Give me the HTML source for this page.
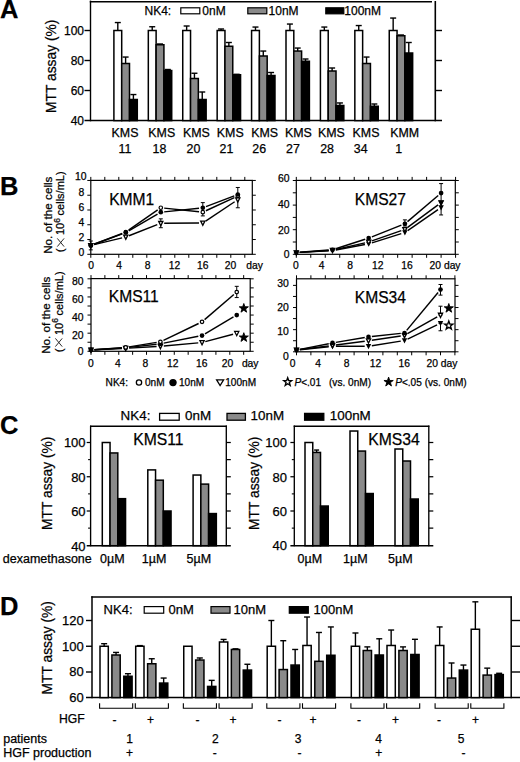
<!DOCTYPE html>
<html><head><meta charset="utf-8"><title>Figure</title>
<style>
html,body{margin:0;padding:0;background:#fff;}
body{width:520px;height:762px;overflow:hidden;}
svg{display:block;font-family:"Liberation Sans",sans-serif;fill:#000;}
text{stroke:#000;stroke-width:0.25px;}
</style></head>
<body>
<svg width="520" height="762" viewBox="0 0 520 762">
<rect x="0" y="0" width="520" height="762" fill="#fff" stroke="none"/>
<text x="0.00" y="18.20" font-size="25.5" text-anchor="start" font-weight="bold" >A</text>
<line x1="90.50" y1="0.60" x2="90.50" y2="121.30" stroke="#000" stroke-width="1.4"/>
<line x1="89.80" y1="1.70" x2="432.00" y2="1.70" stroke="#000" stroke-width="1.6"/>
<line x1="435.30" y1="1.00" x2="435.30" y2="121.30" stroke="#000" stroke-width="1.6"/>
<line x1="84.50" y1="120.60" x2="442.00" y2="120.60" stroke="#000" stroke-width="1.5"/>
<line x1="84.50" y1="30.50" x2="90.50" y2="30.50" stroke="#000" stroke-width="1.4"/>
<line x1="435.30" y1="30.50" x2="442.00" y2="30.50" stroke="#000" stroke-width="1.4"/>
<line x1="84.50" y1="60.50" x2="90.50" y2="60.50" stroke="#000" stroke-width="1.4"/>
<line x1="435.30" y1="60.50" x2="442.00" y2="60.50" stroke="#000" stroke-width="1.4"/>
<line x1="84.50" y1="90.50" x2="90.50" y2="90.50" stroke="#000" stroke-width="1.4"/>
<line x1="435.30" y1="90.50" x2="442.00" y2="90.50" stroke="#000" stroke-width="1.4"/>
<text x="84.00" y="34.80" font-size="12" text-anchor="end" font-weight="normal" >100</text>
<text x="84.00" y="64.80" font-size="12" text-anchor="end" font-weight="normal" >80</text>
<text x="84.00" y="94.80" font-size="12" text-anchor="end" font-weight="normal" >60</text>
<text x="84.00" y="124.80" font-size="12" text-anchor="end" font-weight="normal" >40</text>
<text transform="translate(56.00,66.30) rotate(-90)" font-size="13.8" text-anchor="middle">MTT assay (%)</text>
<text x="144.50" y="14.60" font-size="12" text-anchor="start" font-weight="normal" >NK4:</text>
<rect x="180.80" y="7.80" width="19.00" height="6.00" fill="#fff" stroke="#000" stroke-width="1.2"/>
<text x="202.30" y="14.60" font-size="12" text-anchor="start" font-weight="normal" >0nM</text>
<rect x="247.80" y="7.80" width="19.00" height="6.00" fill="#8a8a8a" stroke="#000" stroke-width="1.2"/>
<text x="268.60" y="14.60" font-size="12" text-anchor="start" font-weight="normal" >10nM</text>
<rect x="325.80" y="7.80" width="18.00" height="6.00" fill="#000" stroke="#000" stroke-width="1.2"/>
<text x="344.30" y="14.60" font-size="12" text-anchor="start" font-weight="normal" >100nM</text>
<rect x="113.90" y="30.50" width="7.80" height="90.10" fill="#fff" stroke="#000" stroke-width="1.5"/>
<line x1="117.80" y1="30.50" x2="117.80" y2="22.55" stroke="#000" stroke-width="1.4"/>
<line x1="114.80" y1="22.55" x2="120.80" y2="22.55" stroke="#000" stroke-width="1.4"/>
<rect x="121.70" y="63.50" width="7.80" height="57.10" fill="#8a8a8a" stroke="#000" stroke-width="1.5"/>
<line x1="125.60" y1="63.50" x2="125.60" y2="57.05" stroke="#000" stroke-width="1.4"/>
<line x1="122.60" y1="57.05" x2="128.60" y2="57.05" stroke="#000" stroke-width="1.4"/>
<rect x="129.50" y="99.50" width="7.80" height="21.10" fill="#000" stroke="#000" stroke-width="1.5"/>
<line x1="133.40" y1="99.50" x2="133.40" y2="94.55" stroke="#000" stroke-width="1.4"/>
<line x1="130.40" y1="94.55" x2="136.40" y2="94.55" stroke="#000" stroke-width="1.4"/>
<text x="125.00" y="136.90" font-size="12.4" text-anchor="middle" font-weight="normal" >KMS</text>
<text x="124.90" y="152.60" font-size="12.4" text-anchor="middle" font-weight="normal" >11</text>
<rect x="148.32" y="30.50" width="7.80" height="90.10" fill="#fff" stroke="#000" stroke-width="1.5"/>
<line x1="152.22" y1="30.50" x2="152.22" y2="26.75" stroke="#000" stroke-width="1.4"/>
<line x1="149.22" y1="26.75" x2="155.22" y2="26.75" stroke="#000" stroke-width="1.4"/>
<rect x="156.12" y="44.75" width="7.80" height="75.85" fill="#8a8a8a" stroke="#000" stroke-width="1.5"/>
<line x1="160.02" y1="44.75" x2="160.02" y2="44.00" stroke="#000" stroke-width="1.4"/>
<line x1="157.02" y1="44.00" x2="163.02" y2="44.00" stroke="#000" stroke-width="1.4"/>
<rect x="163.92" y="70.55" width="7.80" height="50.05" fill="#000" stroke="#000" stroke-width="1.5"/>
<line x1="167.82" y1="70.55" x2="167.82" y2="69.50" stroke="#000" stroke-width="1.4"/>
<line x1="164.82" y1="69.50" x2="170.82" y2="69.50" stroke="#000" stroke-width="1.4"/>
<text x="161.80" y="136.90" font-size="12.4" text-anchor="middle" font-weight="normal" >KMS</text>
<text x="159.50" y="152.60" font-size="12.4" text-anchor="middle" font-weight="normal" >18</text>
<rect x="182.74" y="30.50" width="7.80" height="90.10" fill="#fff" stroke="#000" stroke-width="1.5"/>
<line x1="186.64" y1="30.50" x2="186.64" y2="26.00" stroke="#000" stroke-width="1.4"/>
<line x1="183.64" y1="26.00" x2="189.64" y2="26.00" stroke="#000" stroke-width="1.4"/>
<rect x="190.54" y="78.50" width="7.80" height="42.10" fill="#8a8a8a" stroke="#000" stroke-width="1.5"/>
<line x1="194.44" y1="78.50" x2="194.44" y2="73.25" stroke="#000" stroke-width="1.4"/>
<line x1="191.44" y1="73.25" x2="197.44" y2="73.25" stroke="#000" stroke-width="1.4"/>
<rect x="198.34" y="99.50" width="7.80" height="21.10" fill="#000" stroke="#000" stroke-width="1.5"/>
<line x1="202.24" y1="99.50" x2="202.24" y2="92.00" stroke="#000" stroke-width="1.4"/>
<line x1="199.24" y1="92.00" x2="205.24" y2="92.00" stroke="#000" stroke-width="1.4"/>
<text x="196.40" y="136.90" font-size="12.4" text-anchor="middle" font-weight="normal" >KMS</text>
<text x="193.50" y="152.60" font-size="12.4" text-anchor="middle" font-weight="normal" >20</text>
<rect x="217.16" y="30.50" width="7.80" height="90.10" fill="#fff" stroke="#000" stroke-width="1.5"/>
<line x1="221.06" y1="30.50" x2="221.06" y2="29.00" stroke="#000" stroke-width="1.4"/>
<line x1="218.06" y1="29.00" x2="224.06" y2="29.00" stroke="#000" stroke-width="1.4"/>
<rect x="224.96" y="46.25" width="7.80" height="74.35" fill="#8a8a8a" stroke="#000" stroke-width="1.5"/>
<line x1="228.86" y1="46.25" x2="228.86" y2="42.50" stroke="#000" stroke-width="1.4"/>
<line x1="225.86" y1="42.50" x2="231.86" y2="42.50" stroke="#000" stroke-width="1.4"/>
<rect x="232.76" y="74.75" width="7.80" height="45.85" fill="#000" stroke="#000" stroke-width="1.5"/>
<line x1="236.66" y1="74.75" x2="236.66" y2="74.30" stroke="#000" stroke-width="1.4"/>
<line x1="233.66" y1="74.30" x2="239.66" y2="74.30" stroke="#000" stroke-width="1.4"/>
<text x="230.30" y="136.90" font-size="12.4" text-anchor="middle" font-weight="normal" >KMS</text>
<text x="226.50" y="152.60" font-size="12.4" text-anchor="middle" font-weight="normal" >21</text>
<rect x="251.58" y="30.50" width="7.80" height="90.10" fill="#fff" stroke="#000" stroke-width="1.5"/>
<line x1="255.48" y1="30.50" x2="255.48" y2="27.05" stroke="#000" stroke-width="1.4"/>
<line x1="252.48" y1="27.05" x2="258.48" y2="27.05" stroke="#000" stroke-width="1.4"/>
<rect x="259.38" y="56.00" width="7.80" height="64.60" fill="#8a8a8a" stroke="#000" stroke-width="1.5"/>
<line x1="263.28" y1="56.00" x2="263.28" y2="51.05" stroke="#000" stroke-width="1.4"/>
<line x1="260.28" y1="51.05" x2="266.28" y2="51.05" stroke="#000" stroke-width="1.4"/>
<rect x="267.18" y="75.50" width="7.80" height="45.10" fill="#000" stroke="#000" stroke-width="1.5"/>
<line x1="271.08" y1="75.50" x2="271.08" y2="72.50" stroke="#000" stroke-width="1.4"/>
<line x1="268.08" y1="72.50" x2="274.08" y2="72.50" stroke="#000" stroke-width="1.4"/>
<text x="264.60" y="136.90" font-size="12.4" text-anchor="middle" font-weight="normal" >KMS</text>
<text x="259.20" y="152.60" font-size="12.4" text-anchor="middle" font-weight="normal" >26</text>
<rect x="286.00" y="30.50" width="7.80" height="90.10" fill="#fff" stroke="#000" stroke-width="1.5"/>
<line x1="289.90" y1="30.50" x2="289.90" y2="24.05" stroke="#000" stroke-width="1.4"/>
<line x1="286.90" y1="24.05" x2="292.90" y2="24.05" stroke="#000" stroke-width="1.4"/>
<rect x="293.80" y="51.05" width="7.80" height="69.55" fill="#8a8a8a" stroke="#000" stroke-width="1.5"/>
<line x1="297.70" y1="51.05" x2="297.70" y2="48.05" stroke="#000" stroke-width="1.4"/>
<line x1="294.70" y1="48.05" x2="300.70" y2="48.05" stroke="#000" stroke-width="1.4"/>
<rect x="301.60" y="61.25" width="7.80" height="59.35" fill="#000" stroke="#000" stroke-width="1.5"/>
<line x1="305.50" y1="61.25" x2="305.50" y2="59.00" stroke="#000" stroke-width="1.4"/>
<line x1="302.50" y1="59.00" x2="308.50" y2="59.00" stroke="#000" stroke-width="1.4"/>
<text x="298.40" y="136.90" font-size="12.4" text-anchor="middle" font-weight="normal" >KMS</text>
<text x="293.00" y="152.60" font-size="12.4" text-anchor="middle" font-weight="normal" >27</text>
<rect x="320.42" y="30.50" width="7.80" height="90.10" fill="#fff" stroke="#000" stroke-width="1.5"/>
<line x1="324.32" y1="30.50" x2="324.32" y2="27.05" stroke="#000" stroke-width="1.4"/>
<line x1="321.32" y1="27.05" x2="327.32" y2="27.05" stroke="#000" stroke-width="1.4"/>
<rect x="328.22" y="71.00" width="7.80" height="49.60" fill="#8a8a8a" stroke="#000" stroke-width="1.5"/>
<line x1="332.12" y1="71.00" x2="332.12" y2="68.00" stroke="#000" stroke-width="1.4"/>
<line x1="329.12" y1="68.00" x2="335.12" y2="68.00" stroke="#000" stroke-width="1.4"/>
<rect x="336.02" y="105.50" width="7.80" height="15.10" fill="#000" stroke="#000" stroke-width="1.5"/>
<line x1="339.92" y1="105.50" x2="339.92" y2="102.95" stroke="#000" stroke-width="1.4"/>
<line x1="336.92" y1="102.95" x2="342.92" y2="102.95" stroke="#000" stroke-width="1.4"/>
<text x="331.40" y="136.90" font-size="12.4" text-anchor="middle" font-weight="normal" >KMS</text>
<text x="327.10" y="152.60" font-size="12.4" text-anchor="middle" font-weight="normal" >28</text>
<rect x="354.84" y="30.50" width="7.80" height="90.10" fill="#fff" stroke="#000" stroke-width="1.5"/>
<line x1="358.74" y1="30.50" x2="358.74" y2="25.55" stroke="#000" stroke-width="1.4"/>
<line x1="355.74" y1="25.55" x2="361.74" y2="25.55" stroke="#000" stroke-width="1.4"/>
<rect x="362.64" y="63.50" width="7.80" height="57.10" fill="#8a8a8a" stroke="#000" stroke-width="1.5"/>
<line x1="366.54" y1="63.50" x2="366.54" y2="57.05" stroke="#000" stroke-width="1.4"/>
<line x1="363.54" y1="57.05" x2="369.54" y2="57.05" stroke="#000" stroke-width="1.4"/>
<rect x="370.44" y="106.25" width="7.80" height="14.35" fill="#000" stroke="#000" stroke-width="1.5"/>
<line x1="374.34" y1="106.25" x2="374.34" y2="104.00" stroke="#000" stroke-width="1.4"/>
<line x1="371.34" y1="104.00" x2="377.34" y2="104.00" stroke="#000" stroke-width="1.4"/>
<text x="366.00" y="136.90" font-size="12.4" text-anchor="middle" font-weight="normal" >KMS</text>
<text x="360.70" y="152.60" font-size="12.4" text-anchor="middle" font-weight="normal" >34</text>
<rect x="389.26" y="30.50" width="7.80" height="90.10" fill="#fff" stroke="#000" stroke-width="1.5"/>
<line x1="393.16" y1="30.50" x2="393.16" y2="18.05" stroke="#000" stroke-width="1.4"/>
<line x1="390.16" y1="18.05" x2="396.16" y2="18.05" stroke="#000" stroke-width="1.4"/>
<rect x="397.06" y="35.75" width="7.80" height="84.85" fill="#8a8a8a" stroke="#000" stroke-width="1.5"/>
<line x1="400.96" y1="35.75" x2="400.96" y2="35.00" stroke="#000" stroke-width="1.4"/>
<line x1="397.96" y1="35.00" x2="403.96" y2="35.00" stroke="#000" stroke-width="1.4"/>
<rect x="404.86" y="53.00" width="7.80" height="67.60" fill="#000" stroke="#000" stroke-width="1.5"/>
<line x1="408.76" y1="53.00" x2="408.76" y2="42.50" stroke="#000" stroke-width="1.4"/>
<line x1="405.76" y1="42.50" x2="411.76" y2="42.50" stroke="#000" stroke-width="1.4"/>
<text x="404.60" y="136.90" font-size="12.4" text-anchor="middle" font-weight="normal" >KMM</text>
<text x="398.80" y="152.60" font-size="12.4" text-anchor="middle" font-weight="normal" >1</text>
<text x="0.00" y="194.80" font-size="25.5" text-anchor="start" font-weight="bold" >B</text>
<text transform="translate(51.60,215.20) rotate(-90)" font-size="11.7" text-anchor="middle">No. of the cells</text>
<text transform="translate(64.40,252.20) rotate(-90)" font-size="11.3">(</text>
<path d="M57.30,238.40 L64.10,246.60 M64.10,238.40 L57.30,246.60" stroke="#222" stroke-width="0.95" fill="none"/>
<text transform="translate(64.40,235.00) rotate(-90)" font-size="11">10<tspan font-size="8.4" dy="-4.2">6</tspan><tspan dy="4.2" dx="-0.4"> cells/mL)</tspan></text>
<text transform="translate(49.70,315.20) rotate(-90)" font-size="11.7" text-anchor="middle">No. of the cells</text>
<text transform="translate(62.50,352.20) rotate(-90)" font-size="11.3">(</text>
<path d="M55.40,338.40 L62.20,346.60 M62.20,338.40 L55.40,346.60" stroke="#222" stroke-width="0.95" fill="none"/>
<text transform="translate(62.50,335.00) rotate(-90)" font-size="11">10<tspan font-size="8.4" dy="-4.2">6</tspan><tspan dy="4.2" dx="-0.4"> cells/mL)</tspan></text>
<rect x="90.80" y="180.40" width="161.50" height="73.90" fill="none" stroke="#000" stroke-width="1.2"/>
<line x1="90.80" y1="254.30" x2="90.80" y2="257.80" stroke="#000" stroke-width="1.0"/>
<line x1="90.80" y1="180.40" x2="90.80" y2="176.90" stroke="#000" stroke-width="1.0"/>
<line x1="104.80" y1="254.30" x2="104.80" y2="257.80" stroke="#000" stroke-width="1.0"/>
<line x1="104.80" y1="180.40" x2="104.80" y2="176.90" stroke="#000" stroke-width="1.0"/>
<line x1="118.80" y1="254.30" x2="118.80" y2="257.80" stroke="#000" stroke-width="1.0"/>
<line x1="118.80" y1="180.40" x2="118.80" y2="176.90" stroke="#000" stroke-width="1.0"/>
<line x1="132.80" y1="254.30" x2="132.80" y2="257.80" stroke="#000" stroke-width="1.0"/>
<line x1="132.80" y1="180.40" x2="132.80" y2="176.90" stroke="#000" stroke-width="1.0"/>
<line x1="146.80" y1="254.30" x2="146.80" y2="257.80" stroke="#000" stroke-width="1.0"/>
<line x1="146.80" y1="180.40" x2="146.80" y2="176.90" stroke="#000" stroke-width="1.0"/>
<line x1="160.80" y1="254.30" x2="160.80" y2="257.80" stroke="#000" stroke-width="1.0"/>
<line x1="160.80" y1="180.40" x2="160.80" y2="176.90" stroke="#000" stroke-width="1.0"/>
<line x1="174.80" y1="254.30" x2="174.80" y2="257.80" stroke="#000" stroke-width="1.0"/>
<line x1="174.80" y1="180.40" x2="174.80" y2="176.90" stroke="#000" stroke-width="1.0"/>
<line x1="188.80" y1="254.30" x2="188.80" y2="257.80" stroke="#000" stroke-width="1.0"/>
<line x1="188.80" y1="180.40" x2="188.80" y2="176.90" stroke="#000" stroke-width="1.0"/>
<line x1="202.80" y1="254.30" x2="202.80" y2="257.80" stroke="#000" stroke-width="1.0"/>
<line x1="202.80" y1="180.40" x2="202.80" y2="176.90" stroke="#000" stroke-width="1.0"/>
<line x1="216.80" y1="254.30" x2="216.80" y2="257.80" stroke="#000" stroke-width="1.0"/>
<line x1="216.80" y1="180.40" x2="216.80" y2="176.90" stroke="#000" stroke-width="1.0"/>
<line x1="230.80" y1="254.30" x2="230.80" y2="257.80" stroke="#000" stroke-width="1.0"/>
<line x1="230.80" y1="180.40" x2="230.80" y2="176.90" stroke="#000" stroke-width="1.0"/>
<line x1="244.80" y1="254.30" x2="244.80" y2="257.80" stroke="#000" stroke-width="1.0"/>
<line x1="244.80" y1="180.40" x2="244.80" y2="176.90" stroke="#000" stroke-width="1.0"/>
<line x1="87.30" y1="254.30" x2="90.80" y2="254.30" stroke="#000" stroke-width="1.0"/>
<line x1="252.30" y1="254.30" x2="255.80" y2="254.30" stroke="#000" stroke-width="1.0"/>
<line x1="87.30" y1="239.53" x2="90.80" y2="239.53" stroke="#000" stroke-width="1.0"/>
<line x1="252.30" y1="239.53" x2="255.80" y2="239.53" stroke="#000" stroke-width="1.0"/>
<line x1="87.30" y1="224.76" x2="90.80" y2="224.76" stroke="#000" stroke-width="1.0"/>
<line x1="252.30" y1="224.76" x2="255.80" y2="224.76" stroke="#000" stroke-width="1.0"/>
<line x1="87.30" y1="209.99" x2="90.80" y2="209.99" stroke="#000" stroke-width="1.0"/>
<line x1="252.30" y1="209.99" x2="255.80" y2="209.99" stroke="#000" stroke-width="1.0"/>
<line x1="87.30" y1="195.22" x2="90.80" y2="195.22" stroke="#000" stroke-width="1.0"/>
<line x1="252.30" y1="195.22" x2="255.80" y2="195.22" stroke="#000" stroke-width="1.0"/>
<line x1="87.30" y1="180.45" x2="90.80" y2="180.45" stroke="#000" stroke-width="1.0"/>
<line x1="252.30" y1="180.45" x2="255.80" y2="180.45" stroke="#000" stroke-width="1.0"/>
<text x="86.60" y="180.40" font-size="10.4" text-anchor="end" font-weight="normal" >10</text>
<text x="84.20" y="196.00" font-size="10.4" text-anchor="end" font-weight="normal" >8</text>
<text x="84.20" y="210.90" font-size="10.4" text-anchor="end" font-weight="normal" >6</text>
<text x="84.20" y="226.20" font-size="10.4" text-anchor="end" font-weight="normal" >4</text>
<text x="84.20" y="241.30" font-size="10.4" text-anchor="end" font-weight="normal" >2</text>
<text x="84.20" y="256.00" font-size="10.4" text-anchor="end" font-weight="normal" >0</text>
<text x="91.00" y="268.50" font-size="10.3" text-anchor="middle" font-weight="normal" >0</text>
<text x="119.00" y="268.50" font-size="10.3" text-anchor="middle" font-weight="normal" >4</text>
<text x="147.50" y="268.50" font-size="10.3" text-anchor="middle" font-weight="normal" >8</text>
<text x="174.50" y="268.50" font-size="10.3" text-anchor="middle" font-weight="normal" >12</text>
<text x="202.80" y="268.50" font-size="10.3" text-anchor="middle" font-weight="normal" >16</text>
<text x="230.50" y="268.50" font-size="10.3" text-anchor="middle" font-weight="normal" >20</text>
<text x="246.30" y="268.50" font-size="10.3" text-anchor="start" font-weight="normal" >day</text>
<text x="109.20" y="204.80" font-size="15.6" text-anchor="start" font-weight="normal" >KMM1</text>
<line x1="94.10" y1="244.64" x2="122.11" y2="237.84" stroke="#000" stroke-width="1.45"/>
<line x1="128.97" y1="235.71" x2="157.26" y2="224.66" stroke="#000" stroke-width="1.45"/>
<line x1="164.20" y1="223.25" x2="199.00" y2="222.95" stroke="#000" stroke-width="1.45"/>
<line x1="205.63" y1="221.03" x2="234.64" y2="201.75" stroke="#000" stroke-width="1.45"/>
<line x1="93.98" y1="244.23" x2="122.25" y2="233.49" stroke="#000" stroke-width="1.45"/>
<line x1="128.59" y1="230.20" x2="157.68" y2="209.95" stroke="#000" stroke-width="1.45"/>
<line x1="164.18" y1="208.13" x2="199.02" y2="211.81" stroke="#000" stroke-width="1.45"/>
<line x1="205.88" y1="210.77" x2="234.35" y2="197.56" stroke="#000" stroke-width="1.45"/>
<line x1="93.99" y1="244.26" x2="122.24" y2="233.83" stroke="#000" stroke-width="1.45"/>
<line x1="128.74" y1="230.81" x2="157.51" y2="214.11" stroke="#000" stroke-width="1.45"/>
<line x1="164.18" y1="211.85" x2="199.02" y2="208.17" stroke="#000" stroke-width="1.45"/>
<line x1="205.98" y1="206.57" x2="234.25" y2="195.83" stroke="#000" stroke-width="1.45"/>
<line x1="90.80" y1="249.87" x2="90.80" y2="241.01" stroke="#000" stroke-width="1.0"/>
<line x1="88.80" y1="249.87" x2="92.80" y2="249.87" stroke="#000" stroke-width="1.0"/>
<line x1="88.80" y1="241.01" x2="92.80" y2="241.01" stroke="#000" stroke-width="1.0"/>
<line x1="160.80" y1="227.71" x2="160.80" y2="218.85" stroke="#000" stroke-width="1.0"/>
<line x1="158.80" y1="227.71" x2="162.80" y2="227.71" stroke="#000" stroke-width="1.0"/>
<line x1="158.80" y1="218.85" x2="162.80" y2="218.85" stroke="#000" stroke-width="1.0"/>
<line x1="202.80" y1="215.90" x2="202.80" y2="202.61" stroke="#000" stroke-width="1.0"/>
<line x1="200.80" y1="215.90" x2="204.80" y2="215.90" stroke="#000" stroke-width="1.0"/>
<line x1="200.80" y1="202.61" x2="204.80" y2="202.61" stroke="#000" stroke-width="1.0"/>
<line x1="237.80" y1="207.77" x2="237.80" y2="187.47" stroke="#000" stroke-width="1.0"/>
<line x1="235.80" y1="207.77" x2="239.80" y2="207.77" stroke="#000" stroke-width="1.0"/>
<line x1="235.80" y1="187.47" x2="239.80" y2="187.47" stroke="#000" stroke-width="1.0"/>
<polygon points="88.70,243.64 92.90,243.64 90.80,247.84" fill="#fff" stroke="#000" stroke-width="1.3"/>
<polygon points="123.70,235.15 127.90,235.15 125.80,239.35" fill="#fff" stroke="#000" stroke-width="1.3"/>
<polygon points="158.70,221.48 162.90,221.48 160.80,225.68" fill="#fff" stroke="#000" stroke-width="1.3"/>
<polygon points="200.70,221.11 204.90,221.11 202.80,225.31" fill="#fff" stroke="#000" stroke-width="1.3"/>
<polygon points="235.70,197.85 239.90,197.85 237.80,202.05" fill="#fff" stroke="#000" stroke-width="1.3"/>
<circle cx="90.80" cy="245.44" r="1.75" fill="#fff" stroke="#000" stroke-width="1.2"/>
<circle cx="125.80" cy="232.15" r="1.75" fill="#fff" stroke="#000" stroke-width="1.2"/>
<circle cx="160.80" cy="207.77" r="1.75" fill="#fff" stroke="#000" stroke-width="1.2"/>
<circle cx="202.80" cy="212.21" r="1.75" fill="#fff" stroke="#000" stroke-width="1.2"/>
<circle cx="237.80" cy="195.96" r="1.75" fill="#fff" stroke="#000" stroke-width="1.2"/>
<circle cx="90.80" cy="245.44" r="2.35" fill="#000"/>
<circle cx="125.80" cy="232.51" r="2.35" fill="#000"/>
<circle cx="160.80" cy="212.21" r="2.35" fill="#000"/>
<circle cx="202.80" cy="207.77" r="2.35" fill="#000"/>
<circle cx="237.80" cy="194.48" r="2.35" fill="#000"/>
<polygon points="88.10,243.24 93.50,243.24 90.80,248.44" fill="#000"/>
<rect x="296.30" y="180.40" width="159.00" height="73.90" fill="none" stroke="#000" stroke-width="1.2"/>
<line x1="296.30" y1="254.30" x2="296.30" y2="257.80" stroke="#000" stroke-width="1.0"/>
<line x1="296.30" y1="180.40" x2="296.30" y2="176.90" stroke="#000" stroke-width="1.0"/>
<line x1="310.78" y1="254.30" x2="310.78" y2="257.80" stroke="#000" stroke-width="1.0"/>
<line x1="310.78" y1="180.40" x2="310.78" y2="176.90" stroke="#000" stroke-width="1.0"/>
<line x1="325.26" y1="254.30" x2="325.26" y2="257.80" stroke="#000" stroke-width="1.0"/>
<line x1="325.26" y1="180.40" x2="325.26" y2="176.90" stroke="#000" stroke-width="1.0"/>
<line x1="339.74" y1="254.30" x2="339.74" y2="257.80" stroke="#000" stroke-width="1.0"/>
<line x1="339.74" y1="180.40" x2="339.74" y2="176.90" stroke="#000" stroke-width="1.0"/>
<line x1="354.22" y1="254.30" x2="354.22" y2="257.80" stroke="#000" stroke-width="1.0"/>
<line x1="354.22" y1="180.40" x2="354.22" y2="176.90" stroke="#000" stroke-width="1.0"/>
<line x1="368.70" y1="254.30" x2="368.70" y2="257.80" stroke="#000" stroke-width="1.0"/>
<line x1="368.70" y1="180.40" x2="368.70" y2="176.90" stroke="#000" stroke-width="1.0"/>
<line x1="383.18" y1="254.30" x2="383.18" y2="257.80" stroke="#000" stroke-width="1.0"/>
<line x1="383.18" y1="180.40" x2="383.18" y2="176.90" stroke="#000" stroke-width="1.0"/>
<line x1="397.66" y1="254.30" x2="397.66" y2="257.80" stroke="#000" stroke-width="1.0"/>
<line x1="397.66" y1="180.40" x2="397.66" y2="176.90" stroke="#000" stroke-width="1.0"/>
<line x1="412.14" y1="254.30" x2="412.14" y2="257.80" stroke="#000" stroke-width="1.0"/>
<line x1="412.14" y1="180.40" x2="412.14" y2="176.90" stroke="#000" stroke-width="1.0"/>
<line x1="426.62" y1="254.30" x2="426.62" y2="257.80" stroke="#000" stroke-width="1.0"/>
<line x1="426.62" y1="180.40" x2="426.62" y2="176.90" stroke="#000" stroke-width="1.0"/>
<line x1="441.10" y1="254.30" x2="441.10" y2="257.80" stroke="#000" stroke-width="1.0"/>
<line x1="441.10" y1="180.40" x2="441.10" y2="176.90" stroke="#000" stroke-width="1.0"/>
<line x1="455.58" y1="254.30" x2="455.58" y2="257.80" stroke="#000" stroke-width="1.0"/>
<line x1="455.58" y1="180.40" x2="455.58" y2="176.90" stroke="#000" stroke-width="1.0"/>
<line x1="292.80" y1="254.30" x2="296.30" y2="254.30" stroke="#000" stroke-width="1.0"/>
<line x1="455.30" y1="254.30" x2="458.80" y2="254.30" stroke="#000" stroke-width="1.0"/>
<line x1="292.80" y1="242.00" x2="296.30" y2="242.00" stroke="#000" stroke-width="1.0"/>
<line x1="455.30" y1="242.00" x2="458.80" y2="242.00" stroke="#000" stroke-width="1.0"/>
<line x1="292.80" y1="229.70" x2="296.30" y2="229.70" stroke="#000" stroke-width="1.0"/>
<line x1="455.30" y1="229.70" x2="458.80" y2="229.70" stroke="#000" stroke-width="1.0"/>
<line x1="292.80" y1="217.40" x2="296.30" y2="217.40" stroke="#000" stroke-width="1.0"/>
<line x1="455.30" y1="217.40" x2="458.80" y2="217.40" stroke="#000" stroke-width="1.0"/>
<line x1="292.80" y1="205.10" x2="296.30" y2="205.10" stroke="#000" stroke-width="1.0"/>
<line x1="455.30" y1="205.10" x2="458.80" y2="205.10" stroke="#000" stroke-width="1.0"/>
<line x1="292.80" y1="192.80" x2="296.30" y2="192.80" stroke="#000" stroke-width="1.0"/>
<line x1="455.30" y1="192.80" x2="458.80" y2="192.80" stroke="#000" stroke-width="1.0"/>
<line x1="292.80" y1="180.50" x2="296.30" y2="180.50" stroke="#000" stroke-width="1.0"/>
<line x1="455.30" y1="180.50" x2="458.80" y2="180.50" stroke="#000" stroke-width="1.0"/>
<text x="289.50" y="182.30" font-size="10.4" text-anchor="end" font-weight="normal" >60</text>
<text x="289.50" y="207.80" font-size="10.4" text-anchor="end" font-weight="normal" >40</text>
<text x="289.50" y="233.50" font-size="10.4" text-anchor="end" font-weight="normal" >20</text>
<text x="289.50" y="257.90" font-size="10.4" text-anchor="end" font-weight="normal" >0</text>
<text x="295.80" y="268.50" font-size="10.3" text-anchor="middle" font-weight="normal" >0</text>
<text x="321.60" y="268.50" font-size="10.3" text-anchor="middle" font-weight="normal" >4</text>
<text x="350.00" y="268.50" font-size="10.3" text-anchor="middle" font-weight="normal" >8</text>
<text x="377.80" y="268.50" font-size="10.3" text-anchor="middle" font-weight="normal" >12</text>
<text x="406.90" y="268.50" font-size="10.3" text-anchor="middle" font-weight="normal" >16</text>
<text x="429.60" y="268.50" font-size="10.3" text-anchor="start" font-weight="normal" >20 day</text>
<text x="354.80" y="204.80" font-size="15.6" text-anchor="start" font-weight="normal" >KMS27</text>
<line x1="299.69" y1="252.39" x2="328.71" y2="250.82" stroke="#000" stroke-width="1.45"/>
<line x1="335.84" y1="249.99" x2="364.96" y2="244.54" stroke="#000" stroke-width="1.45"/>
<line x1="371.95" y1="242.83" x2="401.27" y2="233.66" stroke="#000" stroke-width="1.45"/>
<line x1="407.70" y1="230.60" x2="437.97" y2="209.72" stroke="#000" stroke-width="1.45"/>
<line x1="299.69" y1="252.36" x2="328.71" y2="250.49" stroke="#000" stroke-width="1.45"/>
<line x1="335.82" y1="249.49" x2="364.99" y2="242.84" stroke="#000" stroke-width="1.45"/>
<line x1="371.91" y1="240.88" x2="401.31" y2="230.59" stroke="#000" stroke-width="1.45"/>
<line x1="407.64" y1="227.31" x2="438.04" y2="204.90" stroke="#000" stroke-width="1.45"/>
<line x1="299.69" y1="252.31" x2="328.71" y2="250.05" stroke="#000" stroke-width="1.45"/>
<line x1="335.74" y1="248.70" x2="365.08" y2="239.23" stroke="#000" stroke-width="1.45"/>
<line x1="371.86" y1="236.82" x2="401.36" y2="225.19" stroke="#000" stroke-width="1.45"/>
<line x1="407.49" y1="221.59" x2="438.20" y2="195.51" stroke="#000" stroke-width="1.45"/>
<line x1="404.90" y1="226.01" x2="404.90" y2="219.86" stroke="#000" stroke-width="1.0"/>
<line x1="402.90" y1="226.01" x2="406.90" y2="226.01" stroke="#000" stroke-width="1.0"/>
<line x1="402.90" y1="219.86" x2="406.90" y2="219.86" stroke="#000" stroke-width="1.0"/>
<line x1="441.10" y1="214.94" x2="441.10" y2="183.58" stroke="#000" stroke-width="1.0"/>
<line x1="439.10" y1="214.94" x2="443.10" y2="214.94" stroke="#000" stroke-width="1.0"/>
<line x1="439.10" y1="183.58" x2="443.10" y2="183.58" stroke="#000" stroke-width="1.0"/>
<polygon points="293.60,250.38 299.00,250.38 296.30,255.58" fill="#000"/>
<polygon points="329.80,248.41 335.20,248.41 332.50,253.61" fill="#000"/>
<polygon points="366.00,241.65 371.40,241.65 368.70,246.84" fill="#000"/>
<polygon points="402.20,230.33 407.60,230.33 404.90,235.53" fill="#000"/>
<polygon points="438.40,205.36 443.80,205.36 441.10,210.56" fill="#000"/>
<polygon points="294.20,250.78 298.40,250.78 296.30,254.98" fill="#fff" stroke="#000" stroke-width="1.3"/>
<polygon points="330.40,248.44 334.60,248.44 332.50,252.64" fill="#fff" stroke="#000" stroke-width="1.3"/>
<polygon points="366.60,240.20 370.80,240.20 368.70,244.40" fill="#fff" stroke="#000" stroke-width="1.3"/>
<polygon points="402.80,227.53 407.00,227.53 404.90,231.73" fill="#fff" stroke="#000" stroke-width="1.3"/>
<polygon points="439.00,200.84 443.20,200.84 441.10,205.04" fill="#fff" stroke="#000" stroke-width="1.3"/>
<circle cx="296.30" cy="252.58" r="2.35" fill="#000"/>
<circle cx="332.50" cy="249.75" r="2.35" fill="#000"/>
<circle cx="368.70" cy="238.06" r="2.35" fill="#000"/>
<circle cx="404.90" cy="223.80" r="2.35" fill="#000"/>
<circle cx="441.10" cy="193.05" r="2.35" fill="#000"/>
<polygon points="438.40,200.44 443.80,200.44 441.10,205.64" fill="#000"/>
<rect x="91.00" y="278.60" width="159.20" height="72.70" fill="none" stroke="#000" stroke-width="1.2"/>
<line x1="91.00" y1="351.30" x2="91.00" y2="354.80" stroke="#000" stroke-width="1.0"/>
<line x1="91.00" y1="278.60" x2="91.00" y2="275.10" stroke="#000" stroke-width="1.0"/>
<line x1="104.88" y1="351.30" x2="104.88" y2="354.80" stroke="#000" stroke-width="1.0"/>
<line x1="104.88" y1="278.60" x2="104.88" y2="275.10" stroke="#000" stroke-width="1.0"/>
<line x1="118.76" y1="351.30" x2="118.76" y2="354.80" stroke="#000" stroke-width="1.0"/>
<line x1="118.76" y1="278.60" x2="118.76" y2="275.10" stroke="#000" stroke-width="1.0"/>
<line x1="132.64" y1="351.30" x2="132.64" y2="354.80" stroke="#000" stroke-width="1.0"/>
<line x1="132.64" y1="278.60" x2="132.64" y2="275.10" stroke="#000" stroke-width="1.0"/>
<line x1="146.52" y1="351.30" x2="146.52" y2="354.80" stroke="#000" stroke-width="1.0"/>
<line x1="146.52" y1="278.60" x2="146.52" y2="275.10" stroke="#000" stroke-width="1.0"/>
<line x1="160.40" y1="351.30" x2="160.40" y2="354.80" stroke="#000" stroke-width="1.0"/>
<line x1="160.40" y1="278.60" x2="160.40" y2="275.10" stroke="#000" stroke-width="1.0"/>
<line x1="174.28" y1="351.30" x2="174.28" y2="354.80" stroke="#000" stroke-width="1.0"/>
<line x1="174.28" y1="278.60" x2="174.28" y2="275.10" stroke="#000" stroke-width="1.0"/>
<line x1="188.16" y1="351.30" x2="188.16" y2="354.80" stroke="#000" stroke-width="1.0"/>
<line x1="188.16" y1="278.60" x2="188.16" y2="275.10" stroke="#000" stroke-width="1.0"/>
<line x1="202.04" y1="351.30" x2="202.04" y2="354.80" stroke="#000" stroke-width="1.0"/>
<line x1="202.04" y1="278.60" x2="202.04" y2="275.10" stroke="#000" stroke-width="1.0"/>
<line x1="215.92" y1="351.30" x2="215.92" y2="354.80" stroke="#000" stroke-width="1.0"/>
<line x1="215.92" y1="278.60" x2="215.92" y2="275.10" stroke="#000" stroke-width="1.0"/>
<line x1="229.80" y1="351.30" x2="229.80" y2="354.80" stroke="#000" stroke-width="1.0"/>
<line x1="229.80" y1="278.60" x2="229.80" y2="275.10" stroke="#000" stroke-width="1.0"/>
<line x1="243.68" y1="351.30" x2="243.68" y2="354.80" stroke="#000" stroke-width="1.0"/>
<line x1="243.68" y1="278.60" x2="243.68" y2="275.10" stroke="#000" stroke-width="1.0"/>
<line x1="87.50" y1="351.30" x2="91.00" y2="351.30" stroke="#000" stroke-width="1.0"/>
<line x1="250.20" y1="351.30" x2="253.70" y2="351.30" stroke="#000" stroke-width="1.0"/>
<line x1="87.50" y1="342.24" x2="91.00" y2="342.24" stroke="#000" stroke-width="1.0"/>
<line x1="250.20" y1="342.24" x2="253.70" y2="342.24" stroke="#000" stroke-width="1.0"/>
<line x1="87.50" y1="333.18" x2="91.00" y2="333.18" stroke="#000" stroke-width="1.0"/>
<line x1="250.20" y1="333.18" x2="253.70" y2="333.18" stroke="#000" stroke-width="1.0"/>
<line x1="87.50" y1="324.12" x2="91.00" y2="324.12" stroke="#000" stroke-width="1.0"/>
<line x1="250.20" y1="324.12" x2="253.70" y2="324.12" stroke="#000" stroke-width="1.0"/>
<line x1="87.50" y1="315.06" x2="91.00" y2="315.06" stroke="#000" stroke-width="1.0"/>
<line x1="250.20" y1="315.06" x2="253.70" y2="315.06" stroke="#000" stroke-width="1.0"/>
<line x1="87.50" y1="306.00" x2="91.00" y2="306.00" stroke="#000" stroke-width="1.0"/>
<line x1="250.20" y1="306.00" x2="253.70" y2="306.00" stroke="#000" stroke-width="1.0"/>
<line x1="87.50" y1="296.94" x2="91.00" y2="296.94" stroke="#000" stroke-width="1.0"/>
<line x1="250.20" y1="296.94" x2="253.70" y2="296.94" stroke="#000" stroke-width="1.0"/>
<line x1="87.50" y1="287.88" x2="91.00" y2="287.88" stroke="#000" stroke-width="1.0"/>
<line x1="250.20" y1="287.88" x2="253.70" y2="287.88" stroke="#000" stroke-width="1.0"/>
<line x1="87.50" y1="278.82" x2="91.00" y2="278.82" stroke="#000" stroke-width="1.0"/>
<line x1="250.20" y1="278.82" x2="253.70" y2="278.82" stroke="#000" stroke-width="1.0"/>
<text x="83.60" y="285.40" font-size="10.4" text-anchor="end" font-weight="normal" >80</text>
<text x="83.60" y="303.00" font-size="10.4" text-anchor="end" font-weight="normal" >60</text>
<text x="83.60" y="321.20" font-size="10.4" text-anchor="end" font-weight="normal" >40</text>
<text x="83.60" y="339.20" font-size="10.4" text-anchor="end" font-weight="normal" >20</text>
<text x="83.60" y="355.00" font-size="10.4" text-anchor="end" font-weight="normal" >0</text>
<text x="90.80" y="366.50" font-size="10.3" text-anchor="middle" font-weight="normal" >0</text>
<text x="117.80" y="366.50" font-size="10.3" text-anchor="middle" font-weight="normal" >4</text>
<text x="145.30" y="366.50" font-size="10.3" text-anchor="middle" font-weight="normal" >8</text>
<text x="172.80" y="366.50" font-size="10.3" text-anchor="middle" font-weight="normal" >12</text>
<text x="201.80" y="366.50" font-size="10.3" text-anchor="middle" font-weight="normal" >16</text>
<text x="227.50" y="366.50" font-size="10.3" text-anchor="middle" font-weight="normal" >20</text>
<text x="241.90" y="366.50" font-size="10.3" text-anchor="start" font-weight="normal" >day</text>
<text x="108.80" y="302.40" font-size="15.6" text-anchor="start" font-weight="normal" >KMS11</text>
<line x1="94.40" y1="349.78" x2="121.90" y2="348.49" stroke="#000" stroke-width="1.45"/>
<line x1="129.09" y1="348.12" x2="156.61" y2="346.53" stroke="#000" stroke-width="1.45"/>
<line x1="163.79" y1="346.01" x2="198.26" y2="342.86" stroke="#000" stroke-width="1.45"/>
<line x1="205.33" y1="341.64" x2="233.07" y2="334.25" stroke="#000" stroke-width="1.45"/>
<line x1="94.39" y1="349.73" x2="121.91" y2="348.00" stroke="#000" stroke-width="1.45"/>
<line x1="129.08" y1="347.38" x2="156.62" y2="344.21" stroke="#000" stroke-width="1.45"/>
<line x1="163.74" y1="343.12" x2="198.31" y2="336.27" stroke="#000" stroke-width="1.45"/>
<line x1="204.97" y1="333.81" x2="233.47" y2="316.99" stroke="#000" stroke-width="1.45"/>
<line x1="94.39" y1="349.69" x2="121.91" y2="347.68" stroke="#000" stroke-width="1.45"/>
<line x1="129.06" y1="346.86" x2="156.65" y2="342.39" stroke="#000" stroke-width="1.45"/>
<line x1="163.47" y1="340.32" x2="198.61" y2="323.50" stroke="#000" stroke-width="1.45"/>
<line x1="204.62" y1="319.64" x2="233.86" y2="294.52" stroke="#000" stroke-width="1.45"/>
<line x1="236.74" y1="297.57" x2="236.74" y2="286.34" stroke="#000" stroke-width="1.0"/>
<line x1="234.74" y1="297.57" x2="238.74" y2="297.57" stroke="#000" stroke-width="1.0"/>
<line x1="234.74" y1="286.34" x2="238.74" y2="286.34" stroke="#000" stroke-width="1.0"/>
<polygon points="88.90,348.14 93.10,348.14 91.00,352.34" fill="#fff" stroke="#000" stroke-width="1.3"/>
<polygon points="123.60,346.51 127.80,346.51 125.70,350.71" fill="#fff" stroke="#000" stroke-width="1.3"/>
<polygon points="158.30,344.52 162.50,344.52 160.40,348.72" fill="#fff" stroke="#000" stroke-width="1.3"/>
<polygon points="199.94,340.71 204.14,340.71 202.04,344.91" fill="#fff" stroke="#000" stroke-width="1.3"/>
<polygon points="234.64,331.47 238.84,331.47 236.74,335.67" fill="#fff" stroke="#000" stroke-width="1.3"/>
<circle cx="91.00" cy="349.94" r="2.35" fill="#000"/>
<circle cx="125.70" cy="347.77" r="2.35" fill="#000"/>
<circle cx="160.40" cy="343.78" r="2.35" fill="#000"/>
<circle cx="202.04" cy="335.54" r="2.35" fill="#000"/>
<circle cx="236.74" cy="315.06" r="2.35" fill="#000"/>
<circle cx="91.00" cy="349.94" r="1.75" fill="#fff" stroke="#000" stroke-width="1.2"/>
<circle cx="125.70" cy="347.40" r="1.75" fill="#fff" stroke="#000" stroke-width="1.2"/>
<circle cx="160.40" cy="341.79" r="1.75" fill="#fff" stroke="#000" stroke-width="1.2"/>
<circle cx="202.04" cy="321.86" r="1.75" fill="#fff" stroke="#000" stroke-width="1.2"/>
<circle cx="236.74" cy="292.05" r="1.75" fill="#fff" stroke="#000" stroke-width="1.2"/>
<polygon points="88.30,347.74 93.70,347.74 91.00,352.94" fill="#000"/>
<polygon points="243.80,303.50 244.92,306.76 248.37,306.82 245.61,308.89 246.62,312.18 243.80,310.20 240.98,312.18 241.99,308.89 239.23,306.82 242.68,306.76" fill="#000" stroke="#000" stroke-width="0.9" stroke-linejoin="miter"/>
<polygon points="243.80,332.70 244.92,335.96 248.37,336.02 245.61,338.09 246.62,341.38 243.80,339.40 240.98,341.38 241.99,338.09 239.23,336.02 242.68,335.96" fill="#000" stroke="#000" stroke-width="0.9" stroke-linejoin="miter"/>
<rect x="296.50" y="278.80" width="158.50" height="73.00" fill="none" stroke="#000" stroke-width="1.2"/>
<line x1="296.50" y1="351.80" x2="296.50" y2="355.30" stroke="#000" stroke-width="1.0"/>
<line x1="296.50" y1="278.80" x2="296.50" y2="275.30" stroke="#000" stroke-width="1.0"/>
<line x1="310.90" y1="351.80" x2="310.90" y2="355.30" stroke="#000" stroke-width="1.0"/>
<line x1="310.90" y1="278.80" x2="310.90" y2="275.30" stroke="#000" stroke-width="1.0"/>
<line x1="325.30" y1="351.80" x2="325.30" y2="355.30" stroke="#000" stroke-width="1.0"/>
<line x1="325.30" y1="278.80" x2="325.30" y2="275.30" stroke="#000" stroke-width="1.0"/>
<line x1="339.70" y1="351.80" x2="339.70" y2="355.30" stroke="#000" stroke-width="1.0"/>
<line x1="339.70" y1="278.80" x2="339.70" y2="275.30" stroke="#000" stroke-width="1.0"/>
<line x1="354.10" y1="351.80" x2="354.10" y2="355.30" stroke="#000" stroke-width="1.0"/>
<line x1="354.10" y1="278.80" x2="354.10" y2="275.30" stroke="#000" stroke-width="1.0"/>
<line x1="368.50" y1="351.80" x2="368.50" y2="355.30" stroke="#000" stroke-width="1.0"/>
<line x1="368.50" y1="278.80" x2="368.50" y2="275.30" stroke="#000" stroke-width="1.0"/>
<line x1="382.90" y1="351.80" x2="382.90" y2="355.30" stroke="#000" stroke-width="1.0"/>
<line x1="382.90" y1="278.80" x2="382.90" y2="275.30" stroke="#000" stroke-width="1.0"/>
<line x1="397.30" y1="351.80" x2="397.30" y2="355.30" stroke="#000" stroke-width="1.0"/>
<line x1="397.30" y1="278.80" x2="397.30" y2="275.30" stroke="#000" stroke-width="1.0"/>
<line x1="411.70" y1="351.80" x2="411.70" y2="355.30" stroke="#000" stroke-width="1.0"/>
<line x1="411.70" y1="278.80" x2="411.70" y2="275.30" stroke="#000" stroke-width="1.0"/>
<line x1="426.10" y1="351.80" x2="426.10" y2="355.30" stroke="#000" stroke-width="1.0"/>
<line x1="426.10" y1="278.80" x2="426.10" y2="275.30" stroke="#000" stroke-width="1.0"/>
<line x1="440.50" y1="351.80" x2="440.50" y2="355.30" stroke="#000" stroke-width="1.0"/>
<line x1="440.50" y1="278.80" x2="440.50" y2="275.30" stroke="#000" stroke-width="1.0"/>
<line x1="454.90" y1="351.80" x2="454.90" y2="355.30" stroke="#000" stroke-width="1.0"/>
<line x1="454.90" y1="278.80" x2="454.90" y2="275.30" stroke="#000" stroke-width="1.0"/>
<line x1="293.00" y1="351.80" x2="296.50" y2="351.80" stroke="#000" stroke-width="1.0"/>
<line x1="455.00" y1="351.80" x2="458.50" y2="351.80" stroke="#000" stroke-width="1.0"/>
<line x1="293.00" y1="340.73" x2="296.50" y2="340.73" stroke="#000" stroke-width="1.0"/>
<line x1="455.00" y1="340.73" x2="458.50" y2="340.73" stroke="#000" stroke-width="1.0"/>
<line x1="293.00" y1="329.66" x2="296.50" y2="329.66" stroke="#000" stroke-width="1.0"/>
<line x1="455.00" y1="329.66" x2="458.50" y2="329.66" stroke="#000" stroke-width="1.0"/>
<line x1="293.00" y1="318.59" x2="296.50" y2="318.59" stroke="#000" stroke-width="1.0"/>
<line x1="455.00" y1="318.59" x2="458.50" y2="318.59" stroke="#000" stroke-width="1.0"/>
<line x1="293.00" y1="307.52" x2="296.50" y2="307.52" stroke="#000" stroke-width="1.0"/>
<line x1="455.00" y1="307.52" x2="458.50" y2="307.52" stroke="#000" stroke-width="1.0"/>
<line x1="293.00" y1="296.45" x2="296.50" y2="296.45" stroke="#000" stroke-width="1.0"/>
<line x1="455.00" y1="296.45" x2="458.50" y2="296.45" stroke="#000" stroke-width="1.0"/>
<line x1="293.00" y1="285.38" x2="296.50" y2="285.38" stroke="#000" stroke-width="1.0"/>
<line x1="455.00" y1="285.38" x2="458.50" y2="285.38" stroke="#000" stroke-width="1.0"/>
<text x="288.80" y="286.70" font-size="10.4" text-anchor="end" font-weight="normal" >30</text>
<text x="288.80" y="311.30" font-size="10.4" text-anchor="end" font-weight="normal" >20</text>
<text x="288.80" y="335.10" font-size="10.4" text-anchor="end" font-weight="normal" >10</text>
<text x="288.80" y="360.00" font-size="10.4" text-anchor="end" font-weight="normal" >0</text>
<text x="292.50" y="366.50" font-size="10.3" text-anchor="middle" font-weight="normal" >0</text>
<text x="318.00" y="366.50" font-size="10.3" text-anchor="middle" font-weight="normal" >4</text>
<text x="346.60" y="366.50" font-size="10.3" text-anchor="middle" font-weight="normal" >8</text>
<text x="375.50" y="366.50" font-size="10.3" text-anchor="middle" font-weight="normal" >12</text>
<text x="404.30" y="366.50" font-size="10.3" text-anchor="middle" font-weight="normal" >16</text>
<text x="426.50" y="366.50" font-size="10.3" text-anchor="start" font-weight="normal" >20 day</text>
<text x="354.80" y="302.60" font-size="15.6" text-anchor="start" font-weight="normal" >KMS34</text>
<line x1="299.88" y1="349.68" x2="328.72" y2="346.66" stroke="#000" stroke-width="1.45"/>
<line x1="335.90" y1="346.26" x2="364.70" y2="346.26" stroke="#000" stroke-width="1.45"/>
<line x1="371.86" y1="345.73" x2="400.75" y2="341.11" stroke="#000" stroke-width="1.45"/>
<line x1="407.57" y1="339.04" x2="437.07" y2="324.88" stroke="#000" stroke-width="1.45"/>
<line x1="299.87" y1="349.59" x2="328.73" y2="345.87" stroke="#000" stroke-width="1.45"/>
<line x1="335.87" y1="344.94" x2="364.73" y2="341.22" stroke="#000" stroke-width="1.45"/>
<line x1="371.86" y1="340.23" x2="400.74" y2="335.97" stroke="#000" stroke-width="1.45"/>
<line x1="407.46" y1="333.74" x2="437.19" y2="316.92" stroke="#000" stroke-width="1.45"/>
<line x1="299.84" y1="349.37" x2="328.77" y2="343.68" stroke="#000" stroke-width="1.45"/>
<line x1="335.85" y1="342.39" x2="364.75" y2="337.59" stroke="#000" stroke-width="1.45"/>
<line x1="371.88" y1="336.59" x2="400.72" y2="333.40" stroke="#000" stroke-width="1.45"/>
<line x1="406.67" y1="330.36" x2="438.07" y2="292.51" stroke="#000" stroke-width="1.45"/>
<line x1="440.50" y1="295.12" x2="440.50" y2="284.49" stroke="#000" stroke-width="1.0"/>
<line x1="438.50" y1="295.12" x2="442.50" y2="295.12" stroke="#000" stroke-width="1.0"/>
<line x1="438.50" y1="284.49" x2="442.50" y2="284.49" stroke="#000" stroke-width="1.0"/>
<line x1="440.50" y1="315.05" x2="440.50" y2="306.19" stroke="#000" stroke-width="1.0"/>
<line x1="438.50" y1="315.05" x2="442.50" y2="315.05" stroke="#000" stroke-width="1.0"/>
<line x1="438.50" y1="306.19" x2="442.50" y2="306.19" stroke="#000" stroke-width="1.0"/>
<line x1="440.50" y1="330.77" x2="440.50" y2="323.24" stroke="#000" stroke-width="1.0"/>
<line x1="438.50" y1="330.77" x2="442.50" y2="330.77" stroke="#000" stroke-width="1.0"/>
<line x1="438.50" y1="323.24" x2="442.50" y2="323.24" stroke="#000" stroke-width="1.0"/>
<polygon points="293.80,347.83 299.20,347.83 296.50,353.03" fill="#000"/>
<polygon points="329.80,344.06 335.20,344.06 332.50,349.26" fill="#000"/>
<polygon points="365.80,344.06 371.20,344.06 368.50,349.26" fill="#000"/>
<polygon points="401.80,338.31 407.20,338.31 404.50,343.51" fill="#000"/>
<polygon points="437.80,321.04 443.20,321.04 440.50,326.24" fill="#000"/>
<polygon points="294.40,348.23 298.60,348.23 296.50,352.43" fill="#fff" stroke="#000" stroke-width="1.3"/>
<polygon points="330.40,343.58 334.60,343.58 332.50,347.78" fill="#fff" stroke="#000" stroke-width="1.3"/>
<polygon points="366.40,338.93 370.60,338.93 368.50,343.13" fill="#fff" stroke="#000" stroke-width="1.3"/>
<polygon points="402.40,333.62 406.60,333.62 404.50,337.82" fill="#fff" stroke="#000" stroke-width="1.3"/>
<polygon points="438.40,313.25 442.60,313.25 440.50,317.45" fill="#fff" stroke="#000" stroke-width="1.3"/>
<circle cx="296.50" cy="350.03" r="2.35" fill="#000"/>
<circle cx="332.50" cy="342.94" r="2.35" fill="#000"/>
<circle cx="368.50" cy="336.97" r="2.35" fill="#000"/>
<circle cx="404.50" cy="332.98" r="2.35" fill="#000"/>
<circle cx="440.50" cy="289.59" r="2.35" fill="#000"/>
<polygon points="448.80,303.50 449.92,306.76 453.37,306.82 450.61,308.89 451.62,312.18 448.80,310.20 445.98,312.18 446.99,308.89 444.23,306.82 447.68,306.76" fill="#000" stroke="#000" stroke-width="0.9" stroke-linejoin="miter"/>
<polygon points="448.80,321.10 449.86,324.04 452.98,324.14 450.51,326.06 451.39,329.06 448.80,327.30 446.21,329.06 447.09,326.06 444.62,324.14 447.74,324.04" fill="#fff" stroke="#000" stroke-width="1.35" stroke-linejoin="miter"/>
<text x="105.60" y="385.70" font-size="10.1" text-anchor="start" font-weight="normal" >NK4:</text>
<circle cx="139" cy="382.5" r="2.65" fill="#fff" stroke="#000" stroke-width="1.3"/>
<text x="145.00" y="385.70" font-size="10.1" text-anchor="start" font-weight="normal" >0nM</text>
<circle cx="173" cy="382.6" r="3.7" fill="#000"/>
<text x="179.00" y="385.70" font-size="10.1" text-anchor="start" font-weight="normal" >10nM</text>
<polygon points="216.6,379.8 223.6,379.8 220.1,385.6" fill="#fff" stroke="#000" stroke-width="1.3"/>
<text x="225.20" y="385.70" font-size="10.1" text-anchor="start" font-weight="normal" >100nM</text>
<polygon points="287.70,377.80 288.73,380.58 291.69,380.70 289.36,382.54 290.17,385.40 287.70,383.75 285.23,385.40 286.04,382.54 283.71,380.70 286.67,380.58" fill="#fff" stroke="#000" stroke-width="1.35" stroke-linejoin="miter"/>
<text x="294.4" y="385.7" font-size="10.1"><tspan font-style="italic">P</tspan>&lt;.01</text>
<text x="329.00" y="385.70" font-size="10.1" text-anchor="start" font-weight="normal" >(vs. 0nM)</text>
<polygon points="388.60,377.10 389.72,380.46 393.26,380.49 390.41,382.59 391.48,385.96 388.60,383.90 385.72,385.96 386.79,382.59 383.94,380.49 387.48,380.46" fill="#000" stroke="#000" stroke-width="0.9" stroke-linejoin="miter"/>
<text x="395.2" y="385.7" font-size="10.1"><tspan font-style="italic">P</tspan>&lt;.05 (vs. 0nM)</text>
<text x="0.00" y="434.30" font-size="25.5" text-anchor="start" font-weight="bold" >C</text>
<text x="120.60" y="420.30" font-size="13.4" text-anchor="start" font-weight="normal" >NK4:</text>
<rect x="159.60" y="413.40" width="19.60" height="6.80" fill="#fff" stroke="#000" stroke-width="1.3"/>
<text x="185.00" y="420.30" font-size="13.4" text-anchor="start" font-weight="normal" >0nM</text>
<rect x="227.00" y="413.40" width="18.40" height="6.80" fill="#8a8a8a" stroke="#000" stroke-width="1.3"/>
<text x="250.60" y="420.30" font-size="13.4" text-anchor="start" font-weight="normal" >10nM</text>
<rect x="304.60" y="413.40" width="19.20" height="6.80" fill="#000" stroke="#000" stroke-width="1.3"/>
<text x="329.80" y="420.30" font-size="13.4" text-anchor="start" font-weight="normal" >100nM</text>
<line x1="90.60" y1="425.60" x2="90.60" y2="546.30" stroke="#000" stroke-width="1.35"/>
<line x1="90.00" y1="426.20" x2="226.90" y2="426.20" stroke="#000" stroke-width="1.35"/>
<line x1="226.30" y1="425.60" x2="226.30" y2="546.30" stroke="#000" stroke-width="1.35"/>
<line x1="86.70" y1="545.70" x2="230.80" y2="545.70" stroke="#000" stroke-width="1.35"/>
<line x1="86.70" y1="442.50" x2="90.60" y2="442.50" stroke="#000" stroke-width="1.25"/>
<line x1="86.70" y1="476.75" x2="90.60" y2="476.75" stroke="#000" stroke-width="1.25"/>
<line x1="86.70" y1="511.00" x2="90.60" y2="511.00" stroke="#000" stroke-width="1.25"/>
<line x1="88.10" y1="459.62" x2="90.60" y2="459.62" stroke="#000" stroke-width="1.1"/>
<line x1="88.10" y1="493.88" x2="90.60" y2="493.88" stroke="#000" stroke-width="1.1"/>
<line x1="88.10" y1="528.12" x2="90.60" y2="528.12" stroke="#000" stroke-width="1.1"/>
<line x1="226.30" y1="442.50" x2="230.80" y2="442.50" stroke="#000" stroke-width="1.25"/>
<line x1="226.30" y1="459.62" x2="230.80" y2="459.62" stroke="#000" stroke-width="1.25"/>
<line x1="226.30" y1="476.75" x2="230.80" y2="476.75" stroke="#000" stroke-width="1.25"/>
<line x1="226.30" y1="493.88" x2="230.80" y2="493.88" stroke="#000" stroke-width="1.25"/>
<line x1="226.30" y1="511.00" x2="230.80" y2="511.00" stroke="#000" stroke-width="1.25"/>
<line x1="226.30" y1="528.12" x2="230.80" y2="528.12" stroke="#000" stroke-width="1.25"/>
<text x="85.60" y="446.80" font-size="13" text-anchor="end" font-weight="normal" >100</text>
<text x="85.60" y="481.60" font-size="13" text-anchor="end" font-weight="normal" >80</text>
<text x="85.60" y="516.20" font-size="13" text-anchor="end" font-weight="normal" >60</text>
<text x="85.60" y="551.40" font-size="13" text-anchor="end" font-weight="normal" >40</text>
<text transform="translate(52.00,483.30) rotate(-90)" font-size="13.8" text-anchor="middle">MTT assay (%)</text>
<text x="133.20" y="444.60" font-size="15.7" text-anchor="start" font-weight="normal" >KMS11</text>
<rect x="102.30" y="442.50" width="7.75" height="103.20" fill="#fff" stroke="#000" stroke-width="1.5"/>
<rect x="110.05" y="452.95" width="7.75" height="92.75" fill="#8a8a8a" stroke="#000" stroke-width="1.5"/>
<rect x="117.80" y="498.67" width="7.75" height="47.03" fill="#000" stroke="#000" stroke-width="1.5"/>
<rect x="147.80" y="469.90" width="7.75" height="75.80" fill="#fff" stroke="#000" stroke-width="1.5"/>
<rect x="155.55" y="480.18" width="7.75" height="65.53" fill="#8a8a8a" stroke="#000" stroke-width="1.5"/>
<rect x="163.30" y="511.00" width="7.75" height="34.70" fill="#000" stroke="#000" stroke-width="1.5"/>
<rect x="193.10" y="475.04" width="7.75" height="70.66" fill="#fff" stroke="#000" stroke-width="1.5"/>
<rect x="200.85" y="484.11" width="7.75" height="61.59" fill="#8a8a8a" stroke="#000" stroke-width="1.5"/>
<rect x="208.60" y="513.57" width="7.75" height="32.13" fill="#000" stroke="#000" stroke-width="1.5"/>
<text x="100.00" y="562.5" font-size="12.5">0µM</text>
<text x="141.80" y="562.5" font-size="12.5">1µM</text>
<text x="186.50" y="562.5" font-size="12.5">5µM</text>
<line x1="294.30" y1="425.60" x2="294.30" y2="546.30" stroke="#000" stroke-width="1.35"/>
<line x1="293.70" y1="426.20" x2="429.40" y2="426.20" stroke="#000" stroke-width="1.35"/>
<line x1="428.80" y1="425.60" x2="428.80" y2="546.30" stroke="#000" stroke-width="1.35"/>
<line x1="290.40" y1="545.70" x2="433.30" y2="545.70" stroke="#000" stroke-width="1.35"/>
<line x1="290.40" y1="442.50" x2="294.30" y2="442.50" stroke="#000" stroke-width="1.25"/>
<line x1="290.40" y1="476.75" x2="294.30" y2="476.75" stroke="#000" stroke-width="1.25"/>
<line x1="290.40" y1="511.00" x2="294.30" y2="511.00" stroke="#000" stroke-width="1.25"/>
<line x1="291.80" y1="459.62" x2="294.30" y2="459.62" stroke="#000" stroke-width="1.1"/>
<line x1="291.80" y1="493.88" x2="294.30" y2="493.88" stroke="#000" stroke-width="1.1"/>
<line x1="291.80" y1="528.12" x2="294.30" y2="528.12" stroke="#000" stroke-width="1.1"/>
<line x1="428.80" y1="442.50" x2="433.30" y2="442.50" stroke="#000" stroke-width="1.25"/>
<line x1="428.80" y1="459.62" x2="433.30" y2="459.62" stroke="#000" stroke-width="1.25"/>
<line x1="428.80" y1="476.75" x2="433.30" y2="476.75" stroke="#000" stroke-width="1.25"/>
<line x1="428.80" y1="493.88" x2="433.30" y2="493.88" stroke="#000" stroke-width="1.25"/>
<line x1="428.80" y1="511.00" x2="433.30" y2="511.00" stroke="#000" stroke-width="1.25"/>
<line x1="428.80" y1="528.12" x2="433.30" y2="528.12" stroke="#000" stroke-width="1.25"/>
<text x="287.00" y="446.80" font-size="13" text-anchor="end" font-weight="normal" >100</text>
<text x="287.00" y="481.60" font-size="13" text-anchor="end" font-weight="normal" >80</text>
<text x="287.00" y="516.20" font-size="13" text-anchor="end" font-weight="normal" >60</text>
<text x="287.00" y="549.60" font-size="13" text-anchor="end" font-weight="normal" >40</text>
<text transform="translate(258.80,483.30) rotate(-90)" font-size="13.8" text-anchor="middle">MTT assay (%)</text>
<text x="368.30" y="444.60" font-size="15.7" text-anchor="start" font-weight="normal" >KMS34</text>
<rect x="305.00" y="442.50" width="7.75" height="103.20" fill="#fff" stroke="#000" stroke-width="1.5"/>
<rect x="312.75" y="452.43" width="7.75" height="93.27" fill="#8a8a8a" stroke="#000" stroke-width="1.5"/>
<line x1="316.62" y1="452.43" x2="316.62" y2="450.04" stroke="#000" stroke-width="1.4"/>
<line x1="314.12" y1="450.04" x2="319.12" y2="450.04" stroke="#000" stroke-width="1.4"/>
<rect x="320.50" y="506.03" width="7.75" height="39.67" fill="#000" stroke="#000" stroke-width="1.5"/>
<rect x="350.00" y="431.03" width="7.75" height="114.67" fill="#fff" stroke="#000" stroke-width="1.5"/>
<rect x="357.75" y="451.06" width="7.75" height="94.64" fill="#8a8a8a" stroke="#000" stroke-width="1.5"/>
<rect x="365.50" y="493.53" width="7.75" height="52.17" fill="#000" stroke="#000" stroke-width="1.5"/>
<rect x="395.00" y="449.01" width="7.75" height="96.69" fill="#fff" stroke="#000" stroke-width="1.5"/>
<rect x="402.75" y="461.00" width="7.75" height="84.71" fill="#8a8a8a" stroke="#000" stroke-width="1.5"/>
<rect x="410.50" y="499.01" width="7.75" height="46.69" fill="#000" stroke="#000" stroke-width="1.5"/>
<text x="297.50" y="562.5" font-size="12.5">0µM</text>
<text x="343.00" y="562.5" font-size="12.5">1µM</text>
<text x="388.00" y="562.5" font-size="12.5">5µM</text>
<text x="2.80" y="562.50" font-size="12.5" text-anchor="start" font-weight="normal" >dexamethasone</text>
<text x="0.00" y="615.30" font-size="25.5" text-anchor="start" font-weight="bold" >D</text>
<line x1="92.00" y1="596.30" x2="92.00" y2="698.30" stroke="#000" stroke-width="1.5"/>
<line x1="91.30" y1="597.00" x2="511.95" y2="597.00" stroke="#000" stroke-width="1.5"/>
<line x1="511.20" y1="596.50" x2="511.20" y2="698.30" stroke="#000" stroke-width="1.5"/>
<line x1="86.00" y1="697.60" x2="520.00" y2="697.60" stroke="#000" stroke-width="1.5"/>
<line x1="86.00" y1="620.50" x2="92.00" y2="620.50" stroke="#000" stroke-width="1.4"/>
<line x1="511.20" y1="620.50" x2="520.00" y2="620.50" stroke="#000" stroke-width="1.4"/>
<line x1="86.00" y1="646.25" x2="92.00" y2="646.25" stroke="#000" stroke-width="1.4"/>
<line x1="511.20" y1="646.25" x2="520.00" y2="646.25" stroke="#000" stroke-width="1.4"/>
<line x1="86.00" y1="672.00" x2="92.00" y2="672.00" stroke="#000" stroke-width="1.4"/>
<line x1="511.20" y1="672.00" x2="520.00" y2="672.00" stroke="#000" stroke-width="1.4"/>
<text x="83.80" y="624.80" font-size="13" text-anchor="end" font-weight="normal" >120</text>
<text x="83.80" y="650.55" font-size="13" text-anchor="end" font-weight="normal" >100</text>
<text x="83.80" y="676.30" font-size="13" text-anchor="end" font-weight="normal" >80</text>
<text x="83.80" y="702.05" font-size="13" text-anchor="end" font-weight="normal" >60</text>
<text transform="translate(52.00,647.80) rotate(-90)" font-size="13.8" text-anchor="middle">MTT assay (%)</text>
<text x="103.60" y="613.90" font-size="13" text-anchor="start" font-weight="normal" >NK4:</text>
<rect x="144.20" y="606.60" width="19.50" height="6.60" fill="#fff" stroke="#000" stroke-width="1.2"/>
<text x="168.60" y="613.90" font-size="13" text-anchor="start" font-weight="normal" >0nM</text>
<rect x="211.00" y="606.60" width="19.00" height="6.60" fill="#8a8a8a" stroke="#000" stroke-width="1.2"/>
<text x="233.60" y="613.90" font-size="13" text-anchor="start" font-weight="normal" >10nM</text>
<rect x="289.30" y="606.60" width="19.00" height="6.60" fill="#000" stroke="#000" stroke-width="1.2"/>
<text x="313.60" y="613.90" font-size="13" text-anchor="start" font-weight="normal" >100nM</text>
<rect x="100.00" y="646.25" width="8.30" height="51.35" fill="#fff" stroke="#000" stroke-width="1.5"/>
<line x1="104.15" y1="646.25" x2="104.15" y2="643.67" stroke="#000" stroke-width="1.4"/>
<line x1="101.15" y1="643.67" x2="107.15" y2="643.67" stroke="#000" stroke-width="1.4"/>
<rect x="111.90" y="655.00" width="8.30" height="42.60" fill="#8a8a8a" stroke="#000" stroke-width="1.5"/>
<line x1="116.05" y1="655.00" x2="116.05" y2="652.43" stroke="#000" stroke-width="1.4"/>
<line x1="113.05" y1="652.43" x2="119.05" y2="652.43" stroke="#000" stroke-width="1.4"/>
<rect x="123.80" y="676.25" width="8.30" height="21.35" fill="#000" stroke="#000" stroke-width="1.5"/>
<line x1="127.95" y1="676.25" x2="127.95" y2="673.67" stroke="#000" stroke-width="1.4"/>
<line x1="124.95" y1="673.67" x2="130.95" y2="673.67" stroke="#000" stroke-width="1.4"/>
<polyline points="99.60,703.2 99.60,708.2 132.70,708.2 132.70,703.2" fill="none" stroke="#000" stroke-width="1.1"/>
<rect x="135.70" y="646.25" width="8.30" height="51.35" fill="#fff" stroke="#000" stroke-width="1.5"/>
<line x1="139.85" y1="646.25" x2="139.85" y2="645.61" stroke="#000" stroke-width="1.4"/>
<line x1="136.85" y1="645.61" x2="142.85" y2="645.61" stroke="#000" stroke-width="1.4"/>
<rect x="147.60" y="663.76" width="8.30" height="33.84" fill="#8a8a8a" stroke="#000" stroke-width="1.5"/>
<line x1="151.75" y1="663.76" x2="151.75" y2="658.74" stroke="#000" stroke-width="1.4"/>
<line x1="148.75" y1="658.74" x2="154.75" y2="658.74" stroke="#000" stroke-width="1.4"/>
<rect x="159.50" y="683.07" width="8.30" height="14.53" fill="#000" stroke="#000" stroke-width="1.5"/>
<line x1="163.65" y1="683.07" x2="163.65" y2="678.05" stroke="#000" stroke-width="1.4"/>
<line x1="160.65" y1="678.05" x2="166.65" y2="678.05" stroke="#000" stroke-width="1.4"/>
<polyline points="135.30,703.2 135.30,708.2 168.40,708.2 168.40,703.2" fill="none" stroke="#000" stroke-width="1.1"/>
<rect x="183.75" y="646.25" width="8.30" height="51.35" fill="#fff" stroke="#000" stroke-width="1.5"/>
<rect x="195.65" y="660.03" width="8.30" height="37.57" fill="#8a8a8a" stroke="#000" stroke-width="1.5"/>
<line x1="199.80" y1="660.03" x2="199.80" y2="657.97" stroke="#000" stroke-width="1.4"/>
<line x1="196.80" y1="657.97" x2="202.80" y2="657.97" stroke="#000" stroke-width="1.4"/>
<rect x="207.55" y="686.42" width="8.30" height="11.18" fill="#000" stroke="#000" stroke-width="1.5"/>
<line x1="211.70" y1="686.42" x2="211.70" y2="680.37" stroke="#000" stroke-width="1.4"/>
<line x1="208.70" y1="680.37" x2="214.70" y2="680.37" stroke="#000" stroke-width="1.4"/>
<polyline points="183.35,703.2 183.35,708.2 216.45,708.2 216.45,703.2" fill="none" stroke="#000" stroke-width="1.1"/>
<rect x="219.45" y="642.00" width="8.30" height="55.60" fill="#fff" stroke="#000" stroke-width="1.5"/>
<line x1="223.60" y1="642.00" x2="223.60" y2="639.43" stroke="#000" stroke-width="1.4"/>
<line x1="220.60" y1="639.43" x2="226.60" y2="639.43" stroke="#000" stroke-width="1.4"/>
<rect x="231.35" y="649.47" width="8.30" height="48.13" fill="#8a8a8a" stroke="#000" stroke-width="1.5"/>
<line x1="235.50" y1="649.47" x2="235.50" y2="648.83" stroke="#000" stroke-width="1.4"/>
<line x1="232.50" y1="648.83" x2="238.50" y2="648.83" stroke="#000" stroke-width="1.4"/>
<rect x="243.25" y="670.07" width="8.30" height="27.53" fill="#000" stroke="#000" stroke-width="1.5"/>
<line x1="247.40" y1="670.07" x2="247.40" y2="664.27" stroke="#000" stroke-width="1.4"/>
<line x1="244.40" y1="664.27" x2="250.40" y2="664.27" stroke="#000" stroke-width="1.4"/>
<polyline points="219.05,703.2 219.05,708.2 252.15,708.2 252.15,703.2" fill="none" stroke="#000" stroke-width="1.1"/>
<rect x="267.20" y="646.25" width="8.30" height="51.35" fill="#fff" stroke="#000" stroke-width="1.5"/>
<line x1="271.35" y1="646.25" x2="271.35" y2="620.50" stroke="#000" stroke-width="1.4"/>
<line x1="268.35" y1="620.50" x2="274.35" y2="620.50" stroke="#000" stroke-width="1.4"/>
<rect x="279.10" y="669.55" width="8.30" height="28.05" fill="#8a8a8a" stroke="#000" stroke-width="1.5"/>
<line x1="283.25" y1="669.55" x2="283.25" y2="640.71" stroke="#000" stroke-width="1.4"/>
<line x1="280.25" y1="640.71" x2="286.25" y2="640.71" stroke="#000" stroke-width="1.4"/>
<rect x="291.00" y="665.05" width="8.30" height="32.55" fill="#000" stroke="#000" stroke-width="1.5"/>
<line x1="295.15" y1="665.05" x2="295.15" y2="649.47" stroke="#000" stroke-width="1.4"/>
<line x1="292.15" y1="649.47" x2="298.15" y2="649.47" stroke="#000" stroke-width="1.4"/>
<polyline points="266.80,703.2 266.80,708.2 299.90,708.2 299.90,703.2" fill="none" stroke="#000" stroke-width="1.1"/>
<rect x="302.90" y="645.48" width="8.30" height="52.12" fill="#fff" stroke="#000" stroke-width="1.5"/>
<line x1="307.05" y1="645.48" x2="307.05" y2="617.02" stroke="#000" stroke-width="1.4"/>
<line x1="304.05" y1="617.02" x2="310.05" y2="617.02" stroke="#000" stroke-width="1.4"/>
<rect x="314.80" y="661.31" width="8.30" height="36.29" fill="#8a8a8a" stroke="#000" stroke-width="1.5"/>
<line x1="318.95" y1="661.31" x2="318.95" y2="632.47" stroke="#000" stroke-width="1.4"/>
<line x1="315.95" y1="632.47" x2="321.95" y2="632.47" stroke="#000" stroke-width="1.4"/>
<rect x="326.70" y="655.26" width="8.30" height="42.34" fill="#000" stroke="#000" stroke-width="1.5"/>
<line x1="330.85" y1="655.26" x2="330.85" y2="626.94" stroke="#000" stroke-width="1.4"/>
<line x1="327.85" y1="626.94" x2="333.85" y2="626.94" stroke="#000" stroke-width="1.4"/>
<polyline points="302.50,703.2 302.50,708.2 335.60,708.2 335.60,703.2" fill="none" stroke="#000" stroke-width="1.1"/>
<rect x="351.30" y="646.25" width="8.30" height="51.35" fill="#fff" stroke="#000" stroke-width="1.5"/>
<line x1="355.45" y1="646.25" x2="355.45" y2="632.99" stroke="#000" stroke-width="1.4"/>
<line x1="352.45" y1="632.99" x2="358.45" y2="632.99" stroke="#000" stroke-width="1.4"/>
<rect x="363.20" y="650.50" width="8.30" height="47.10" fill="#8a8a8a" stroke="#000" stroke-width="1.5"/>
<line x1="367.35" y1="650.50" x2="367.35" y2="646.89" stroke="#000" stroke-width="1.4"/>
<line x1="364.35" y1="646.89" x2="370.35" y2="646.89" stroke="#000" stroke-width="1.4"/>
<rect x="375.10" y="655.00" width="8.30" height="42.60" fill="#000" stroke="#000" stroke-width="1.5"/>
<line x1="379.25" y1="655.00" x2="379.25" y2="638.78" stroke="#000" stroke-width="1.4"/>
<line x1="376.25" y1="638.78" x2="382.25" y2="638.78" stroke="#000" stroke-width="1.4"/>
<polyline points="350.90,703.2 350.90,708.2 384.00,708.2 384.00,703.2" fill="none" stroke="#000" stroke-width="1.1"/>
<rect x="387.00" y="645.48" width="8.30" height="52.12" fill="#fff" stroke="#000" stroke-width="1.5"/>
<line x1="391.15" y1="645.48" x2="391.15" y2="630.03" stroke="#000" stroke-width="1.4"/>
<line x1="388.15" y1="630.03" x2="394.15" y2="630.03" stroke="#000" stroke-width="1.4"/>
<rect x="398.90" y="650.50" width="8.30" height="47.10" fill="#8a8a8a" stroke="#000" stroke-width="1.5"/>
<line x1="403.05" y1="650.50" x2="403.05" y2="646.89" stroke="#000" stroke-width="1.4"/>
<line x1="400.05" y1="646.89" x2="406.05" y2="646.89" stroke="#000" stroke-width="1.4"/>
<rect x="410.80" y="654.49" width="8.30" height="43.11" fill="#000" stroke="#000" stroke-width="1.5"/>
<line x1="414.95" y1="654.49" x2="414.95" y2="639.30" stroke="#000" stroke-width="1.4"/>
<line x1="411.95" y1="639.30" x2="417.95" y2="639.30" stroke="#000" stroke-width="1.4"/>
<polyline points="386.60,703.2 386.60,708.2 419.70,708.2 419.70,703.2" fill="none" stroke="#000" stroke-width="1.1"/>
<rect x="435.50" y="645.48" width="8.30" height="52.12" fill="#fff" stroke="#000" stroke-width="1.5"/>
<line x1="439.65" y1="645.48" x2="439.65" y2="626.94" stroke="#000" stroke-width="1.4"/>
<line x1="436.65" y1="626.94" x2="442.65" y2="626.94" stroke="#000" stroke-width="1.4"/>
<rect x="447.40" y="678.05" width="8.30" height="19.55" fill="#8a8a8a" stroke="#000" stroke-width="1.5"/>
<line x1="451.55" y1="678.05" x2="451.55" y2="662.99" stroke="#000" stroke-width="1.4"/>
<line x1="448.55" y1="662.99" x2="454.55" y2="662.99" stroke="#000" stroke-width="1.4"/>
<rect x="459.30" y="670.07" width="8.30" height="27.53" fill="#000" stroke="#000" stroke-width="1.5"/>
<line x1="463.45" y1="670.07" x2="463.45" y2="665.05" stroke="#000" stroke-width="1.4"/>
<line x1="460.45" y1="665.05" x2="466.45" y2="665.05" stroke="#000" stroke-width="1.4"/>
<polyline points="435.10,703.2 435.10,708.2 468.20,708.2 468.20,703.2" fill="none" stroke="#000" stroke-width="1.1"/>
<rect x="471.20" y="629.25" width="8.30" height="68.35" fill="#fff" stroke="#000" stroke-width="1.5"/>
<line x1="475.35" y1="629.25" x2="475.35" y2="601.83" stroke="#000" stroke-width="1.4"/>
<line x1="472.35" y1="601.83" x2="478.35" y2="601.83" stroke="#000" stroke-width="1.4"/>
<rect x="483.10" y="675.09" width="8.30" height="22.51" fill="#8a8a8a" stroke="#000" stroke-width="1.5"/>
<line x1="487.25" y1="675.09" x2="487.25" y2="668.14" stroke="#000" stroke-width="1.4"/>
<line x1="484.25" y1="668.14" x2="490.25" y2="668.14" stroke="#000" stroke-width="1.4"/>
<rect x="495.00" y="674.58" width="8.30" height="23.02" fill="#000" stroke="#000" stroke-width="1.5"/>
<line x1="499.15" y1="674.58" x2="499.15" y2="673.29" stroke="#000" stroke-width="1.4"/>
<line x1="496.15" y1="673.29" x2="502.15" y2="673.29" stroke="#000" stroke-width="1.4"/>
<polyline points="470.80,703.2 470.80,708.2 503.90,708.2 503.90,703.2" fill="none" stroke="#000" stroke-width="1.1"/>
<text x="59.00" y="722.80" font-size="12.2" text-anchor="start" font-weight="normal" >HGF</text>
<text x="114.40" y="723.50" font-size="12" text-anchor="middle" font-weight="normal" >-</text>
<text x="150.50" y="723.50" font-size="12" text-anchor="middle" font-weight="normal" >+</text>
<text x="197.60" y="723.50" font-size="12" text-anchor="middle" font-weight="normal" >-</text>
<text x="233.00" y="723.50" font-size="12" text-anchor="middle" font-weight="normal" >+</text>
<text x="279.40" y="723.50" font-size="12" text-anchor="middle" font-weight="normal" >-</text>
<text x="313.00" y="723.50" font-size="12" text-anchor="middle" font-weight="normal" >+</text>
<text x="359.00" y="723.50" font-size="12" text-anchor="middle" font-weight="normal" >-</text>
<text x="395.50" y="723.50" font-size="12" text-anchor="middle" font-weight="normal" >+</text>
<text x="439.00" y="723.50" font-size="12" text-anchor="middle" font-weight="normal" >-</text>
<text x="475.60" y="723.50" font-size="12" text-anchor="middle" font-weight="normal" >+</text>
<text x="3.20" y="742.60" font-size="12.5" text-anchor="start" font-weight="normal" >patients</text>
<text x="3.20" y="757.00" font-size="12.5" text-anchor="start" font-weight="normal" >HGF production</text>
<text x="129.60" y="743.00" font-size="12" text-anchor="middle" font-weight="normal" >1</text>
<text x="215.40" y="743.00" font-size="12" text-anchor="middle" font-weight="normal" >2</text>
<text x="298.00" y="743.00" font-size="12" text-anchor="middle" font-weight="normal" >3</text>
<text x="378.70" y="743.00" font-size="12" text-anchor="middle" font-weight="normal" >4</text>
<text x="461.00" y="743.00" font-size="12" text-anchor="middle" font-weight="normal" >5</text>
<text x="129.60" y="757.40" font-size="12" text-anchor="middle" font-weight="normal" >+</text>
<text x="214.80" y="757.40" font-size="12" text-anchor="middle" font-weight="normal" >-</text>
<text x="299.60" y="757.40" font-size="12" text-anchor="middle" font-weight="normal" >-</text>
<text x="378.70" y="757.40" font-size="12" text-anchor="middle" font-weight="normal" >+</text>
<text x="463.50" y="757.40" font-size="12" text-anchor="middle" font-weight="normal" >-</text>
</svg>
</body></html>
